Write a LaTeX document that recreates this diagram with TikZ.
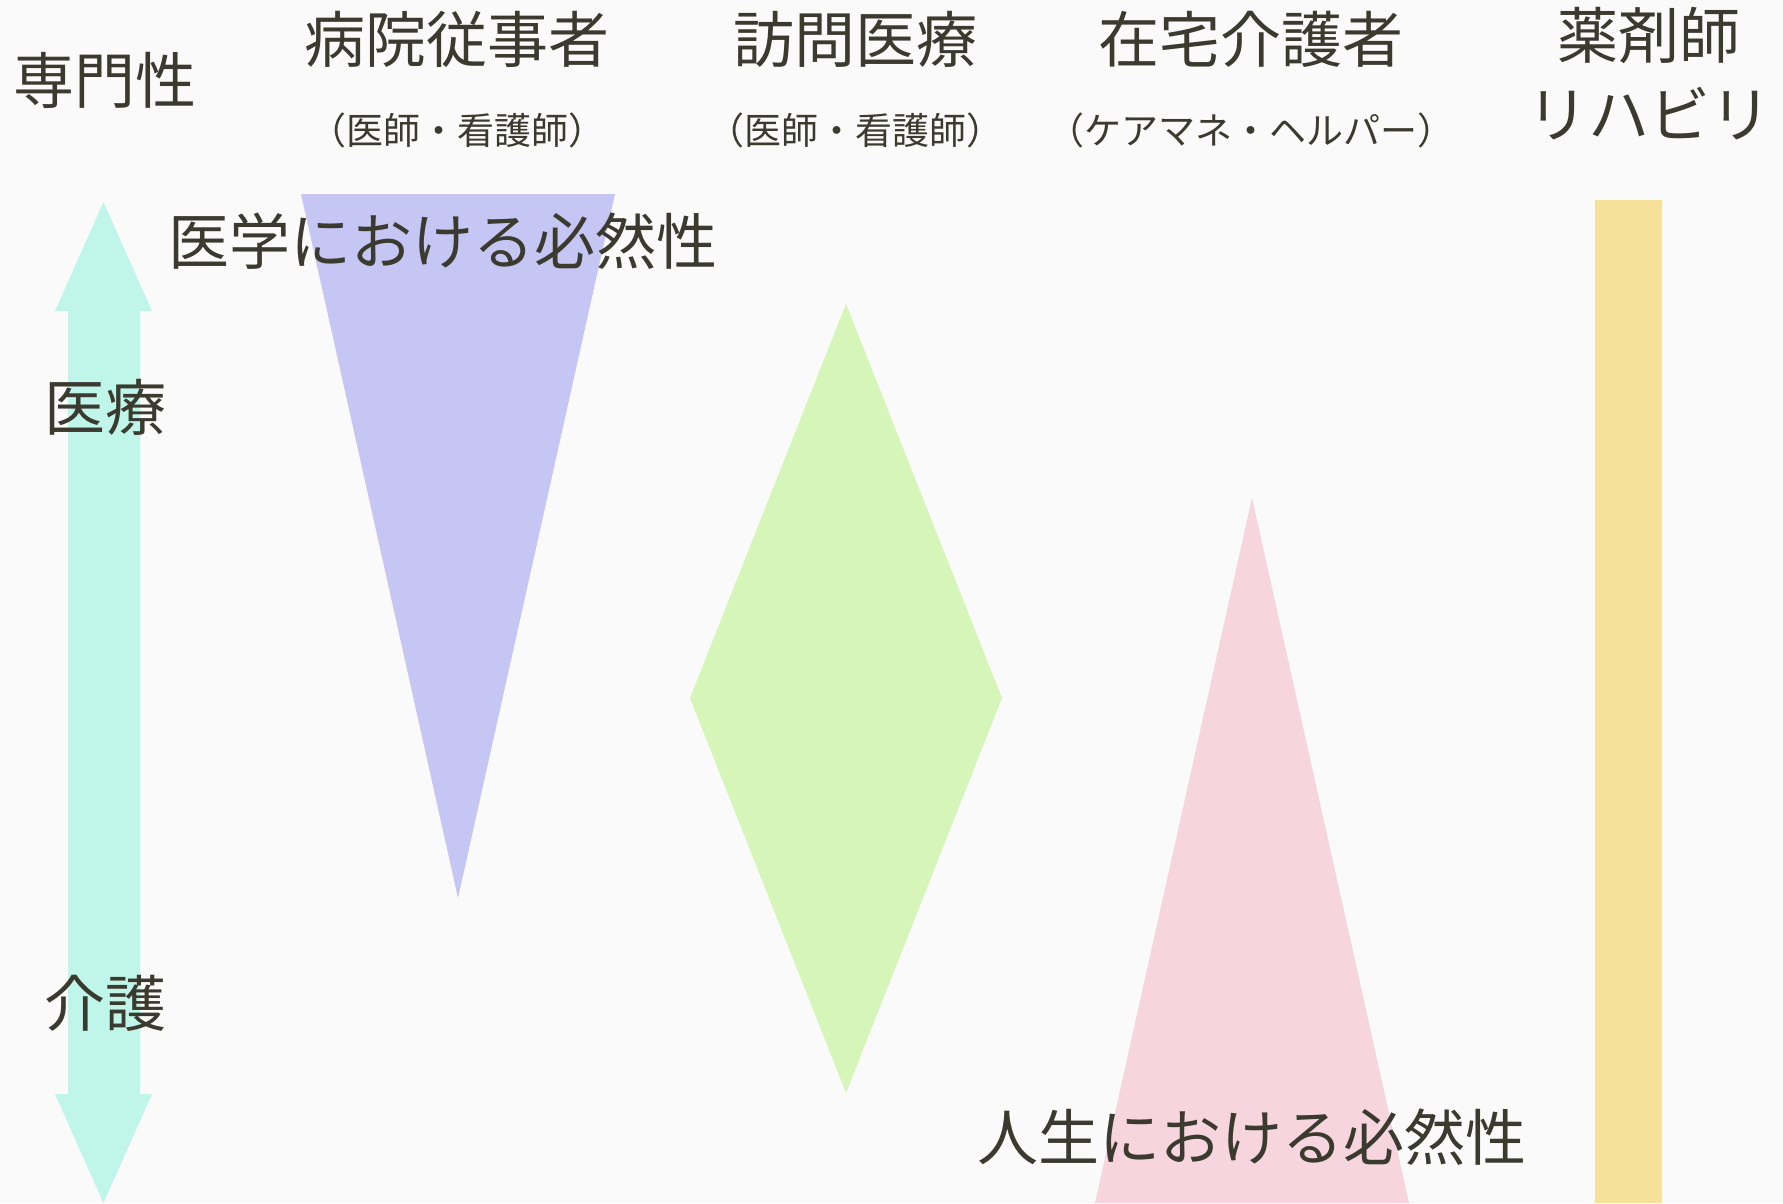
\documentclass[tikz,border=0pt]{standalone}
\usepackage{fontspec}
\newfontfamily\jp{Noto Sans CJK JP}
\definecolor{bg}{HTML}{FAFAFA}
\definecolor{ink}{HTML}{3A3A2F}
\definecolor{teal}{HTML}{C0F5EA}
\definecolor{lav}{HTML}{C6C6F5}
\definecolor{lime}{HTML}{D6F5B9}
\definecolor{pinkish}{HTML}{F7D5DF}
\definecolor{sand}{HTML}{F5E19A}
\tikzset{
  big/.style={font=\jp\fontsize{61}{70}\selectfont, text=ink, inner sep=0pt},
  small/.style={font=\jp\fontsize{37}{44}\selectfont, text=ink, inner sep=0pt},
}
\begin{document}
\begin{tikzpicture}[x=1pt,y=-1pt]
\useasboundingbox (0,0) rectangle (1783,1203);
\fill[bg] (0,0) rectangle (1783,1203);
% double arrow
\fill[teal] (103.5,202) -- (152,311) -- (140,311) -- (140,1094) -- (152,1094) -- (103.5,1203)
  -- (55,1094) -- (68,1094) -- (68,311) -- (55,311) -- cycle;
% lavender inverted triangle
\fill[lav] (301,194) -- (615,194) -- (458,898) -- cycle;
% green diamond
\fill[lime] (846,304) -- (1002,698) -- (846,1093) -- (690,698) -- cycle;
% pink triangle
\fill[pinkish] (1252,498) -- (1409,1203) -- (1095,1203) -- cycle;
% yellow bar
\fill[sand] (1595,200) rectangle (1662,1203);
% texts
\node[big] (senmon) at (105,80) {専門性};
\node[big] (byoin) at (457,39) {病院従事者};
\node[small] (byoinsub) at (457,130) {（医師・看護師）};
\node[big] (homon) at (855,39) {訪問医療};
\node[small] (homonsub) at (855,130) {（医師・看護師）};
\node[big] (zaitaku) at (1251,39) {在宅介護者};
\node[small] (zaitakusub) at (1251,130) {（ケアマネ・ヘルパー）};
\node[big] (yaku) at (1649,35) {薬剤師};
\node[big] (riha) at (1649,114) {リハビリ};
\node[big] (igaku) at (443,241) {医学における必然性};
\node[big] (iryo) at (105,407) {医療};
\node[big] (kaigo) at (105,1003) {介護};
\node[big] (jinsei) at (1252,1137) {人生における必然性};
\end{tikzpicture}
\end{document}
